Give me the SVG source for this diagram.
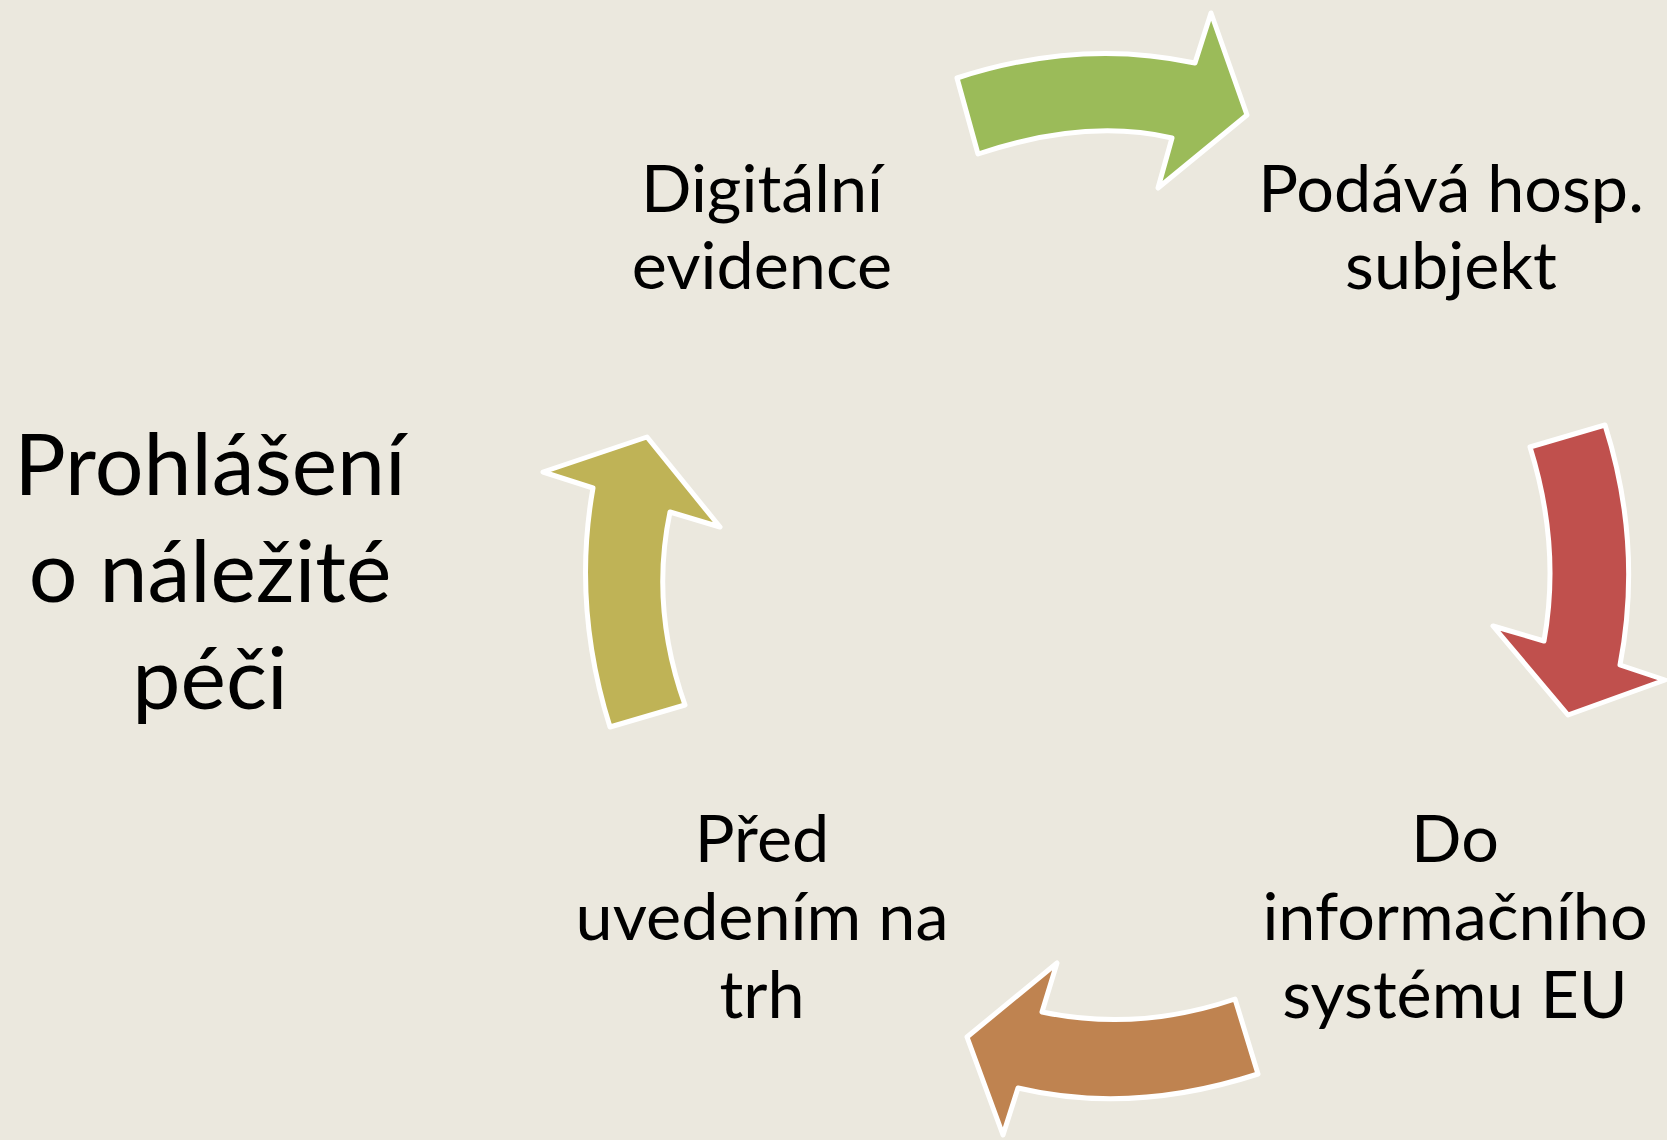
<svg xmlns="http://www.w3.org/2000/svg" width="1667" height="1140" viewBox="0 0 1667 1140">
<style>
.arrow{stroke:#FFFFFF;stroke-width:5;stroke-linejoin:round}
.lbl{font-family:Lato,"Open Sans","Liberation Sans",sans-serif;font-size:66.5px;fill:#000000;text-anchor:middle}
.big{font-size:86px}
</style>
<rect x="0" y="0" width="1667" height="1140" fill="#EBE8DE"/>
<g id="connectors">
<path id="arrow-green" class="arrow" fill="#9BBB59" d="M957,78 Q1080,38 1195,63 L1211,13 L1247,115 L1158,188 L1172,138 Q1085,118 978,154 Z"/>
<path id="arrow-red" class="arrow" fill="#C0504D" d="M1530,447 L1605,425 Q1643,545 1620,665 L1665,680 L1568,715 L1493,626 L1544,641 Q1561,546 1530,447 Z"/>
<path id="arrow-brown" class="arrow" fill="#BF8350" d="M1057,963 L1042,1012 Q1138,1032 1235,999 L1258,1074 Q1132,1115 1018,1088 L1003,1135 L967,1037 Z"/>
<path id="arrow-olive" class="arrow" fill="#BFB356" d="M647,437 L720,527 L670,512 Q650,607 685,705 L610,727 Q572,606 593,488 L543,472 Z"/>
</g>
<g id="node-digitalni">
<text class="lbl" x="762" y="212">Digitální</text>
<text class="lbl" x="762" y="289">evidence</text>
</g>
<g id="node-podava">
<text class="lbl" x="1451" y="212">Podává hosp.</text>
<text class="lbl" x="1451" y="289">subjekt</text>
</g>
<g id="node-do-is">
<text class="lbl" x="1455" y="862">Do</text>
<text class="lbl" x="1455" y="940">informačního</text>
<text class="lbl" x="1455" y="1018">systému EU</text>
</g>
<g id="node-pred">
<text class="lbl" x="762" y="862">Před</text>
<text class="lbl" x="762" y="940">uvedením na</text>
<text class="lbl" x="762" y="1018">trh</text>
</g>
<g id="node-prohlaseni">
<text class="lbl big" x="210" y="495">Prohlášení</text>
<text class="lbl big" x="210" y="602">o náležité</text>
<text class="lbl big" x="210" y="709">péči</text>
</g>
</svg>
